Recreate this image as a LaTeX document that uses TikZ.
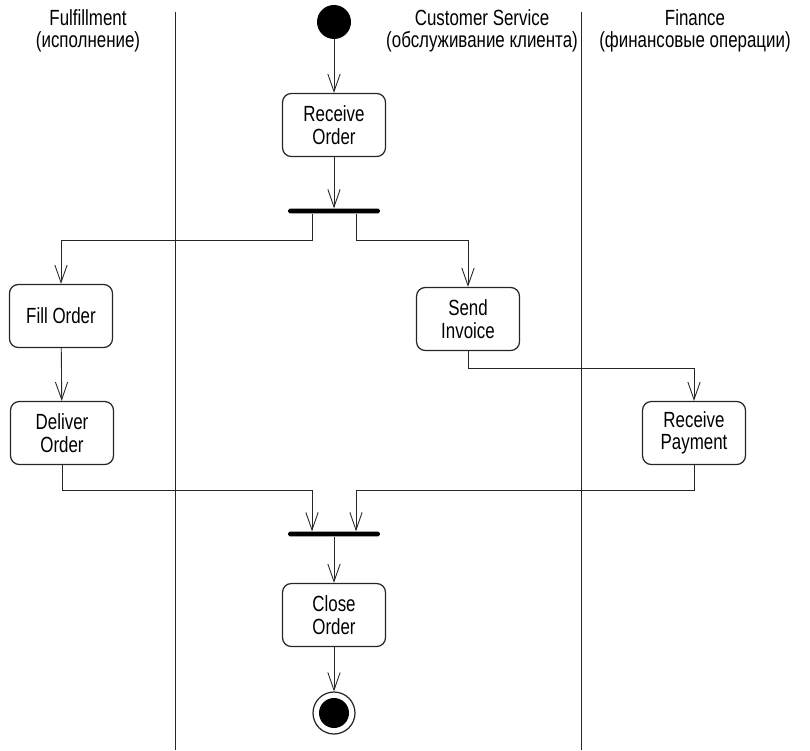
\documentclass[tikz,border=0pt]{standalone}
\usepackage{fontspec}
\setmainfont[FakeStretch=0.77]{Liberation Sans}
\usetikzlibrary{arrows.meta}

\begin{document}
\begin{tikzpicture}[x=0.02cm,y=-0.02cm,line width=0.5pt,draw=black!85,
    every node/.style={font=\fontsize{12.5}{12.8}\selectfont},
    act/.style={draw,line width=0.7pt,rounded corners=5pt,align=center,
      minimum width=2.06cm,minimum height=1.26cm,inner sep=2pt},
    syncbar/.style={fill=black,rounded corners=1pt,minimum width=1.84cm,
      minimum height=2.6pt,inner sep=0pt},
    lane/.style={align=center},
    flow/.style={-{Straight Barb[length=10pt,width=7pt]}}]
      \useasboundingbox (0,0) rectangle (810,750);
      % swimlanes
      \foreach \x in {175,581} \draw (\x,12) -- (\x,750);
      \node[lane] (laneF) at (88,31) {Fulfillment\\(исполнение)};
      \node[lane] (laneC) at (482,31) {Customer Service\\(обслуживание клиента)};
      \node[lane] (laneM) at (695,31) {Finance\\(финансовые операции)};
      % activities
      \node[circle,fill=black,minimum size=0.68cm,inner sep=0pt] (start) at (334,22) {};
      \node[act] (receive) at (334,125) {Receive\\Order};
      \node[syncbar] (fork) at (334,211) {};
      \node[act] (fill) at (61,316) {Fill Order};
      \node[act] (deliver) at (62,433) {Deliver\\Order};
      \node[act] (invoice) at (468,319) {Send\\Invoice};
      \node[act] (payment) at (694,433) {Receive\\Payment};
      \node[syncbar] (join) at (334,534) {};
      \node[act] (close) at (334,615) {Close\\Order};
      \node[circle,draw,line width=0.7pt,minimum size=0.84cm,inner sep=0pt] (stop) at (334,713) {};
      \fill (stop) circle (0.3cm);
      % transitions
      \draw[flow] (start) -- (receive);
      \draw[flow] (receive) -- (fork);
      \draw[flow] ([xshift=-0.44cm]fork.south) -- ++(0,27) -| (fill.north);
      \draw[flow] ([xshift=0.44cm]fork.south) -- ++(0,27) -| (invoice.north);
      \draw[flow] (fill) -- (deliver);
      \draw[flow] (invoice.south) -- ++(0,17) -| (payment.north);
      \draw[flow] (deliver.south) -- ++(0,25) -| ([xshift=-0.44cm]join.north);
      \draw[flow] (payment.south) -- ++(0,25) -| ([xshift=0.44cm]join.north);
      \draw[flow] (join) -- (close);
      \draw[flow] (close) -- (stop);
    \end{tikzpicture}
\end{document}
